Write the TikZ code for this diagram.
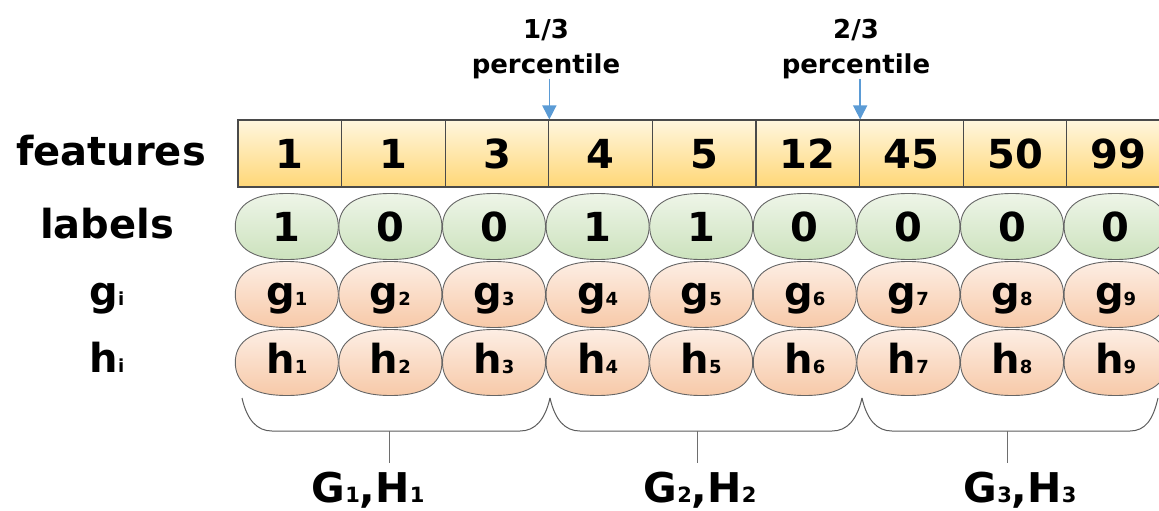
\documentclass[tikz,border=0pt]{standalone}
\usepackage{fontspec}
\setmainfont{DejaVu Sans}
\usetikzlibrary{arrows.meta,backgrounds}
\definecolor{feattop}{HTML}{FFF6DE}
\definecolor{featbot}{HTML}{FFD777}
\definecolor{greentop}{HTML}{EEF5E8}
\definecolor{greenbot}{HTML}{CCE2BD}
\definecolor{orangetop}{HTML}{FDEEE4}
\definecolor{orangebot}{HTML}{F7C9A8}
\definecolor{arrowblue}{HTML}{5B9BD5}
\definecolor{edgegray}{HTML}{4A4A4A}
\newcommand\smallsub[1]{{\fontsize{18}{18}\selectfont #1}}
\newcommand\bigsub[1]{{\fontsize{21}{21}\selectfont #1}}
\begin{document}
\begin{tikzpicture}[x=1pt,y={(0pt,-1pt)},
  txt/.style={font=\fontsize{40}{40}\selectfont\bfseries, inner sep=0pt},
  featcell/.style={txt, draw=edgegray, line width=1.1pt, top color=feattop, bottom color=featbot,
    minimum width=103.6pt, minimum height=67pt, text height=29pt, text depth=0pt},
  oval/.style={txt, minimum width=103pt, minimum height=66pt},
  labcell/.style={oval, text height=29pt, text depth=0pt},
  gradcell/.style={oval, text height=30pt, text depth=9pt},
  ovalline/.style={draw=edgegray!85, line width=0.9pt},
  greenfill/.style={ovalline, top color=greentop, bottom color=greenbot},
  orangefill/.style={ovalline, top color=orangetop, bottom color=orangebot},
  rowlab/.style={txt, anchor=base},
  pct/.style={font=\fontsize{26}{35}\selectfont\bfseries, align=center, anchor=south, inner sep=0pt},
  parrow/.style={arrowblue, line width=1.5pt, -{Triangle[width=14pt,length=14pt]}},
  brace/.style={draw=edgegray!90, line width=1pt},
  stem/.style={draw=edgegray!80, line width=0.8pt},
  grouplab/.style={font=\fontsize{41}{41}\selectfont\bfseries, anchor=base, inner sep=0pt}
]
\useasboundingbox (0,0) rectangle (1159,511);
% oval outline, centred at the origin: half width 51.5, half height 33
\def\ovalpath{(-51.5,0) .. controls (-51.5,-18) and (-39,-33) .. (0,-33)
  .. controls (39,-33) and (51.5,-18) .. (51.5,0)
  .. controls (51.5,18) and (39,33) .. (0,33)
  .. controls (-39,33) and (-51.5,18) .. (-51.5,0) -- cycle}

% row labels
\node[rowlab] (rf) at (111,165) {features};
\node[rowlab] (rl) at (107,238) {labels};
\node[rowlab] (rg) at (107,305) {g\smallsub{i}};
\node[rowlab] (rh) at (107,372) {h\smallsub{i}};

% features
\foreach \v [count=\i] in {1,1,3,4,5,12,45,50,99}
  \node[featcell] (f\i) at ({238+103.6*(\i-0.5)},153.5) {\v};

% labels
\foreach \v [count=\i] in {1,0,0,1,1,0,0,0,0}
  \node[labcell] (l\i) at ({235+103.6*(\i-0.5)},226.5) {\v};

% g and h
\foreach \i in {1,...,9} {
  \node[gradcell] (g\i) at ({235+103.6*(\i-0.5)},294.5) {g\smallsub{\i}};
  \node[gradcell] (h\i) at ({235+103.6*(\i-0.5)},362.5) {h\smallsub{\i}};
}

\begin{scope}[on background layer]
  \foreach \i in {1,...,9} {
    \path[greenfill, shift={(l\i.center)}] \ovalpath;
    \path[orangefill, shift={(g\i.center)}] \ovalpath;
    \path[orangefill, shift={(h\i.center)}] \ovalpath;
  }
\end{scope}

% percentile markers
\node[pct] (p1) at (546,79) {1/3\\percentile};
\node[pct] (p2) at (856,79) {2/3\\percentile};
\draw[parrow] (p1.south -| f3.north east) -- (f3.north east);
\draw[parrow] (p2.south -| f6.north east) -- (f6.north east);

% braces
\draw[brace] (242,398) .. controls (247,420) and (257,431) .. (272,431) -- (520,431)
  .. controls (535,431) and (545,420) .. (550,398);
\draw[brace] (550,398) .. controls (555,420) and (565,431) .. (580,431) -- (832,431)
  .. controls (847,431) and (857,420) .. (862,398);
\draw[brace] (862,398) .. controls (867,420) and (877,431) .. (892,431) -- (1130,431)
  .. controls (1145,431) and (1153,420) .. (1158,398);

\coordinate (s1) at (389,431); \coordinate (t1) at (389,463);
\coordinate (s2) at (697,431); \coordinate (t2) at (697,463);
\coordinate (s3) at (1007,431); \coordinate (t3) at (1007,463);
\draw[stem] (s1) -- (t1);
\draw[stem] (s2) -- (t2);
\draw[stem] (s3) -- (t3);

\node[grouplab] (G1) at (368,502) {G\bigsub{1},H\bigsub{1}};
\node[grouplab] (G2) at (700,502) {G\bigsub{2},H\bigsub{2}};
\node[grouplab] (G3) at (1020,502) {G\bigsub{3},H\bigsub{3}};
\end{tikzpicture}
\end{document}
